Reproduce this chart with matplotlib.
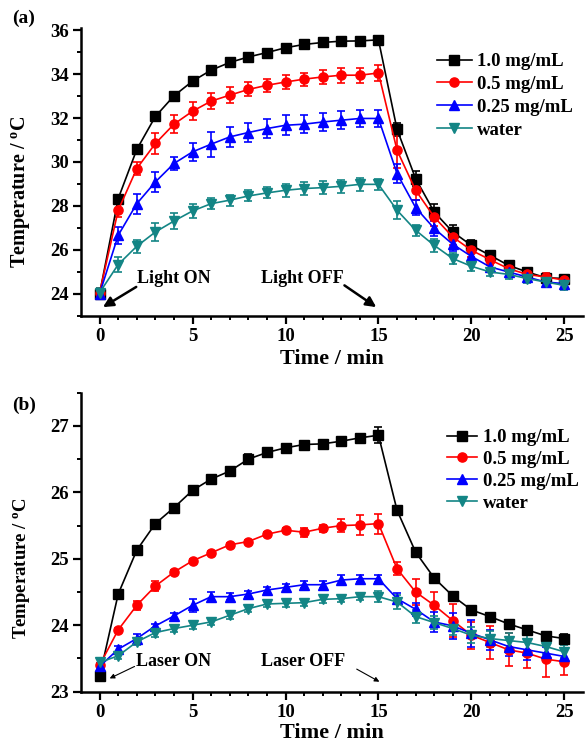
import numpy as np
import matplotlib
matplotlib.use("Agg")
import matplotlib.pyplot as plt

plt.rcParams['font.family'] = ['Liberation Serif', 'DejaVu Serif']
plt.rcParams['font.weight'] = 'bold'
plt.rcParams['mathtext.fontset'] = 'custom'
plt.rcParams['mathtext.rm'] = 'Liberation Serif:bold'
plt.rcParams['mathtext.bf'] = 'Liberation Serif:bold'
plt.rcParams['mathtext.it'] = 'Liberation Serif:bold'

time = list(range(26))
labels = ['1.0 mg/mL', '0.5 mg/mL', '0.25 mg/mL', 'water']
colors = ['#000000', '#FF0000', '#0000FF', '#138585']
markers = ['s', 'o', '^', 'v']

# Panel (a)
a_c10 = [24.0, 28.33, 30.57, 32.07, 33.01, 33.68, 34.18, 34.53, 34.78, 34.98, 35.2,
         35.35, 35.44, 35.5, 35.51, 35.56, 31.48, 29.24, 27.72, 26.81, 26.2, 25.75,
         25.29, 24.99, 24.73, 24.69]
a_c05 = [24.05, 27.8, 29.7, 30.84, 31.72, 32.31, 32.77, 33.04, 33.3, 33.49, 33.64,
         33.77, 33.87, 33.95, 33.95, 34.05, 30.53, 28.71, 27.49, 26.58, 25.98, 25.55,
         25.14, 24.88, 24.76, 24.62]
a_c025 = [24.0, 26.66, 28.1, 29.09, 29.93, 30.46, 30.81, 31.14, 31.34, 31.52, 31.67,
          31.72, 31.82, 31.9, 31.98, 31.98, 29.47, 27.92, 26.97, 26.25, 25.7, 25.22,
          24.99, 24.76, 24.53, 24.46]
a_water = [24.05, 25.33, 26.16, 26.81, 27.31, 27.77, 28.1, 28.26, 28.45, 28.59, 28.71,
           28.79, 28.83, 28.89, 28.98, 28.98, 27.8, 26.89, 26.2, 25.6, 25.25, 24.99,
           24.88, 24.69, 24.53, 24.38]
a_e10 = [0.15, 0.1, 0.15, 0.1, 0.1, 0.08, 0.08, 0.08, 0.08, 0.08, 0.08,
         0.08, 0.08, 0.08, 0.08, 0.08, 0.3, 0.35, 0.35, 0.3, 0.25, 0.2,
         0.2, 0.2, 0.15, 0.15]
a_e05 = [0.2, 0.3, 0.3, 0.49, 0.42, 0.4, 0.38, 0.35, 0.32, 0.3, 0.3,
         0.3, 0.32, 0.35, 0.35, 0.38, 0.8, 0.45, 0.4, 0.35, 0.3, 0.25,
         0.2, 0.2, 0.2, 0.2]
a_e025 = [0.2, 0.4, 0.45, 0.45, 0.3, 0.42, 0.57, 0.45, 0.45, 0.45, 0.45,
          0.42, 0.42, 0.4, 0.38, 0.38, 0.45, 0.35, 0.35, 0.3, 0.3, 0.25,
          0.2, 0.2, 0.2, 0.2]
a_ew = [0.2, 0.35, 0.3, 0.4, 0.35, 0.3, 0.25, 0.25, 0.25, 0.25, 0.3,
        0.3, 0.3, 0.3, 0.3, 0.25, 0.4, 0.25, 0.3, 0.25, 0.2, 0.2,
        0.2, 0.2, 0.2, 0.2]

# Panel (b)
b_c10 = [23.23, 24.47, 25.13, 25.53, 25.77, 26.03, 26.2, 26.32, 26.5, 26.6, 26.67,
         26.72, 26.73, 26.77, 26.82, 26.86, 25.73, 25.1, 24.71, 24.44, 24.23, 24.13,
         24.02, 23.93, 23.84, 23.8]
b_c05 = [23.4, 23.93, 24.3, 24.59, 24.8, 24.97, 25.09, 25.21, 25.26, 25.37, 25.43,
         25.4, 25.46, 25.5, 25.51, 25.53, 24.85, 24.5, 24.3, 24.07, 23.85, 23.74,
         23.63, 23.58, 23.49, 23.45]
b_c025 = [23.38, 23.64, 23.8, 23.99, 24.14, 24.3, 24.43, 24.43, 24.47, 24.53, 24.57,
          24.61, 24.61, 24.68, 24.7, 24.7, 24.4, 24.24, 24.05, 23.99, 23.88, 23.78,
          23.68, 23.63, 23.58, 23.53]
b_water = [23.44, 23.54, 23.75, 23.89, 23.95, 24.0, 24.05, 24.15, 24.25, 24.32, 24.33,
           24.34, 24.39, 24.4, 24.43, 24.43, 24.35, 24.13, 24.04, 23.95, 23.85, 23.8,
           23.77, 23.74, 23.68, 23.6]
b_e10 = [0.03, 0.03, 0.03, 0.03, 0.03, 0.03, 0.03, 0.03, 0.07, 0.07, 0.03,
         0.03, 0.03, 0.03, 0.03, 0.12, 0.03, 0.03, 0.03, 0.03, 0.03, 0.03,
         0.05, 0.05, 0.05, 0.07]
b_e05 = [0.03, 0.03, 0.07, 0.07, 0.03, 0.03, 0.03, 0.03, 0.03, 0.03, 0.03,
         0.07, 0.05, 0.1, 0.15, 0.15, 0.1, 0.2, 0.2, 0.25, 0.2, 0.25,
         0.25, 0.22, 0.27, 0.2]
b_e025 = [0.05, 0.05, 0.07, 0.03, 0.05, 0.1, 0.07, 0.05, 0.05, 0.05, 0.05,
          0.05, 0.05, 0.08, 0.05, 0.05, 0.08, 0.1, 0.15, 0.2, 0.2, 0.15,
          0.15, 0.15, 0.1, 0.1]
b_ew = [0.05, 0.05, 0.05, 0.07, 0.05, 0.05, 0.05, 0.05, 0.05, 0.05, 0.05,
        0.05, 0.05, 0.05, 0.05, 0.08, 0.1, 0.1, 0.1, 0.1, 0.12, 0.12,
        0.12, 0.12, 0.12, 0.1]

fig = plt.figure(figsize=(5.85, 7.44), dpi=100)
ax1 = fig.add_axes([0.1385, 0.5757, 0.858, 0.3867])
ax2 = fig.add_axes([0.1385, 0.0703, 0.858, 0.4019])


def style(ax, ylim, ymaj, ymin, ylab_size, ylab_y):
    ax.set_xlim(-1.0, 26.0)
    ax.set_ylim(*ylim)
    for s in ['top', 'right']:
        ax.spines[s].set_visible(False)
    for s in ['left', 'bottom']:
        ax.spines[s].set_linewidth(1.8)
    ax.set_xticks([0, 5, 10, 15, 20, 25])
    ax.set_xticks(np.arange(0, 26, 1), minor=True)
    ax.set_yticks(ymaj)
    ax.set_yticks(ymin, minor=True)
    ax.tick_params(which='major', direction='out', length=6, width=1.6,
                   labelsize=13.5, pad=3)
    ax.tick_params(which='minor', direction='out', length=3, width=1.4)
    for lab in ax.get_xticklabels() + ax.get_yticklabels():
        lab.set_fontweight('bold')
    ax.set_xlabel('Time / min', fontsize=16, fontweight='bold')
    ax.xaxis.set_label_coords(0.5, -0.115)
    ax.set_ylabel(r'Temperature / $^{\mathrm{o}}$C', fontsize=ylab_size, fontweight='bold')
    ax.yaxis.set_label_coords(-0.097, ylab_y)


def plot_series(ax, ys, es, msize):
    for y, e, c, m, lab in zip(ys, es, colors, markers, labels):
        ax.errorbar(time, y, yerr=e, color=c, ecolor=c, marker=m, markersize=msize,
                    linewidth=1.2, elinewidth=1.2, capsize=2.6, capthick=1.2,
                    label=lab)


plot_series(ax1, [a_c10, a_c05, a_c025, a_water], [a_e10, a_e05, a_e025, a_ew], 6.6)
style(ax1, (23.0, 36.1), [24, 26, 28, 30, 32, 34, 36], [23, 25, 27, 29, 31, 33, 35],
      14.5, 0.432)
h, l = ax1.get_legend_handles_labels()
h = [x[0] for x in h]
ax1.legend(h, l, loc='upper left', bbox_to_anchor=(0.69, 0.945), frameon=False,
           prop={'family': 'Liberation Serif', 'weight': 'bold', 'size': 13.5},
           handlelength=1.87, handletextpad=0.3, labelspacing=0.3, borderpad=0)

ax1.annotate('', xy=(0.18, 23.39), xytext=(1.97, 24.31),
             arrowprops=dict(arrowstyle='-|>', color='black', lw=1.8,
                             mutation_scale=15, shrinkA=0, shrinkB=0))
ax1.text(2.0, 24.7, 'Light ON', fontsize=13, fontweight='bold', ha='left', va='center')
ax1.annotate('', xy=(14.88, 23.39), xytext=(13.17, 24.38),
             arrowprops=dict(arrowstyle='-|>', color='black', lw=1.8,
                             mutation_scale=15, shrinkA=0, shrinkB=0))
ax1.text(8.7, 24.7, 'Light OFF', fontsize=13, fontweight='bold', ha='left', va='center')

plot_series(ax2, [b_c10, b_c05, b_c025, b_water], [b_e10, b_e05, b_e025, b_ew], 6.6)
style(ax2, (23.0, 27.5), [23, 24, 25, 26, 27], [23.5, 24.5, 25.5, 26.5, 27.5],
      13.5, 0.414)
ax2.xaxis.set_label_coords(0.5, -0.105)
h, l = ax2.get_legend_handles_labels()
h = [x[0] for x in h]
ax2.legend(h, l, loc='upper left', bbox_to_anchor=(0.711, 0.91), frameon=False,
           prop={'family': 'Liberation Serif', 'weight': 'bold', 'size': 13.5},
           handlelength=1.6, handletextpad=0.3, labelspacing=0.25, borderpad=0)

ax2.annotate('', xy=(0.54, 23.2), xytext=(1.88, 23.38),
             arrowprops=dict(arrowstyle='-|>', color='black', lw=0.8,
                             mutation_scale=7, shrinkA=0, shrinkB=0))
ax2.text(1.95, 23.46, 'Laser ON', fontsize=13, fontweight='bold', ha='left', va='center')
ax2.annotate('', xy=(15.05, 23.15), xytext=(13.83, 23.34),
             arrowprops=dict(arrowstyle='-|>', color='black', lw=0.8,
                             mutation_scale=7, shrinkA=0, shrinkB=0))
ax2.text(8.7, 23.45, 'Laser OFF', fontsize=13, fontweight='bold', ha='left', va='center')

fig.text(0.02, 0.975, '(a)', fontsize=14, fontweight='bold', ha='left', va='center')
fig.text(0.02, 0.455, '(b)', fontsize=14, fontweight='bold', ha='left', va='center')

fig.savefig('out.png', dpi=100)
